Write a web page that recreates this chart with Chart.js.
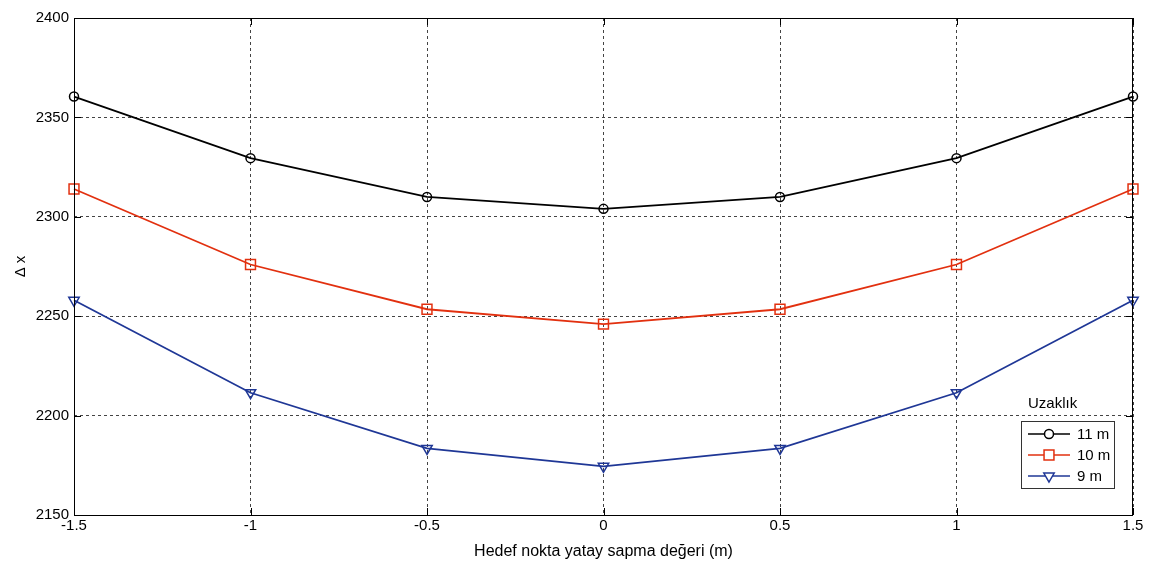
<!DOCTYPE html>
<html>
<head>
<meta charset="utf-8">
<script src="https://cdn.jsdelivr.net/npm/chart.js@4"></script>
<style>
  html, body { margin: 0; padding: 0; background: #fff; }
  #wrap { width: 1152px; height: 561px; position: relative; }
</style>
</head>
<body>
<div id="wrap"><canvas id="chart"></canvas></div>
<script>
// Yatay sapma değerleri (m)
const sapma = [-1.5, -1, -0.5, 0, 0.5, 1, 1.5];
const seriesNames = ['11 m', '10 m', '9 m'];
const dx11 = [2360.5, 2329.5, 2310, 2304, 2310, 2329.5, 2360.5];
const dx10 = [2314, 2276, 2253.5, 2246, 2253.5, 2276, 2314];
const dx9 = [2258, 2211.5, 2183.5, 2174.5, 2183.5, 2211.5, 2258];
const xTicks = [-1.5, -1, -0.5, 0, 0.5, 1, 1.5];
const yTicks = [2150, 2200, 2250, 2300, 2350, 2400];

const FONT = 'Arial, "Liberation Sans", sans-serif';
const colors = ['#000000', '#e2300f', '#1f3796'];
const markers = ['circle', 'rect', 'triangle'];
const radii = [4.5, 7, 6];

const toPoints = arr => arr.map((v, i) => ({ x: sapma[i], y: v }));

// Çerçeve, içe doğru tik çizgileri ve lejant
const framePlugin = {
    id: 'frame',
    afterDraw(chart) {
        const { ctx, chartArea: a, scales } = chart;
        ctx.save();
        ctx.strokeStyle = '#000';
        ctx.lineWidth = 1;
        ctx.setLineDash([]);
        ctx.strokeRect(a.left + 0.5, a.top + 0.5, a.right - a.left - 1, a.bottom - a.top);
        ctx.beginPath();
        xTicks.forEach(v => {
            const px = Math.round(scales.x.getPixelForValue(v)) + 0.5;
            ctx.moveTo(px, a.bottom); ctx.lineTo(px, a.bottom - 7);
            ctx.moveTo(px, a.top); ctx.lineTo(px, a.top + 7);
        });
        yTicks.forEach(v => {
            const py = Math.round(scales.y.getPixelForValue(v)) + 0.5;
            ctx.moveTo(a.left, py); ctx.lineTo(a.left + 7, py);
            ctx.moveTo(a.right, py); ctx.lineTo(a.right - 7, py);
        });
        ctx.stroke();

        // Lejant
        const lx = 1021, ly = 421, lw = 93, lh = 67;
        ctx.fillStyle = '#fff';
        ctx.fillRect(lx, ly, lw, lh);
        ctx.strokeStyle = '#333';
        ctx.strokeRect(lx + 0.5, ly + 0.5, lw, lh);
        ctx.fillStyle = '#000';
        ctx.font = '15px ' + FONT;
        ctx.textBaseline = 'middle';
        ctx.fillText('Uzaklık', 1028, 404);
        chart.data.datasets.forEach((ds, i) => {
            const cy = ly + 13 + i * 21;
            ctx.strokeStyle = ds.borderColor;
            ctx.lineWidth = 1.5;
            ctx.beginPath();
            ctx.moveTo(lx + 7, cy); ctx.lineTo(lx + 49, cy);
            ctx.stroke();
            ctx.fillStyle = '#fff';
            Chart.helpers.drawPoint(ctx, {
                pointStyle: ds.pointStyle, radius: ds.pointRadius,
                rotation: ds.pointRotation || 0, borderWidth: 1.5
            }, lx + 28, cy);
            ctx.fillStyle = '#000';
            ctx.fillText(ds.label, lx + 56, cy + 1);
        });
        ctx.restore();
    }
};

const mkDataset = (label, values, i) => ({
    label: label,
    data: toPoints(values),
    borderColor: colors[i],
    backgroundColor: 'rgba(255,255,255,0)',
    pointBorderColor: colors[i],
    pointBackgroundColor: 'rgba(255,255,255,0)',
    pointStyle: markers[i],
    pointRadius: radii[i],
    pointRotation: i === 2 ? 180 : 0,
    pointBorderWidth: 1.5,
    borderWidth: 1.8,
    fill: false,
    tension: 0,
    clip: false,
});

new Chart(document.getElementById('chart').getContext('2d'), {
    type: 'line',
    data: {
        datasets: [
            mkDataset(seriesNames[0], dx11, 0),
            mkDataset(seriesNames[1], dx10, 1),
            mkDataset(seriesNames[2], dx9, 2),
        ],
    },
    plugins: [framePlugin],
    options: {
        responsive: true,
        maintainAspectRatio: false,
        animation: false,
        layout: { padding: { top: 18, right: 19, left: 12, bottom: 0 } },
        plugins: {
            legend: { display: false },
            tooltip: { enabled: false },
        },
        scales: {
            x: {
                type: 'linear',
                min: -1.5,
                max: 1.5,
                afterBuildTicks: s => { s.ticks = xTicks.map(v => ({ value: v })); },
                afterFit: s => { s.height = 46; },
                border: { display: false, dash: [3, 3] },
                grid: {
                    color: '#444',
                    lineWidth: 1,
                    drawTicks: false,
                },
                ticks: {
                    color: '#000',
                    padding: 2,
                    maxRotation: 0,
                    font: { family: FONT, size: 15 },
                    callback: v => String(v),
                },
                title: {
                    display: true,
                    text: 'Hedef nokta yatay sapma değeri (m)',
                    color: '#000',
                    font: { family: FONT, size: 16 },
                    padding: { top: 2, bottom: 0 },
                },
            },
            y: {
                min: 2150,
                max: 2400,
                afterBuildTicks: s => { s.ticks = yTicks.map(v => ({ value: v })); },
                afterFit: s => { s.width = 62; },
                border: { display: false, dash: [3, 3] },
                grid: {
                    color: '#444',
                    lineWidth: 1,
                    drawTicks: false,
                },
                ticks: {
                    color: '#000',
                    padding: 5,
                    font: { family: FONT, size: 15 },
                    callback: v => String(v),
                },
                title: {
                    display: true,
                    text: 'Δ x',
                    color: '#000',
                    font: { family: FONT, size: 15 },
                    padding: { top: 0, bottom: 0 },
                },
            },
        },
    },
});
</script>
</body>
</html>
